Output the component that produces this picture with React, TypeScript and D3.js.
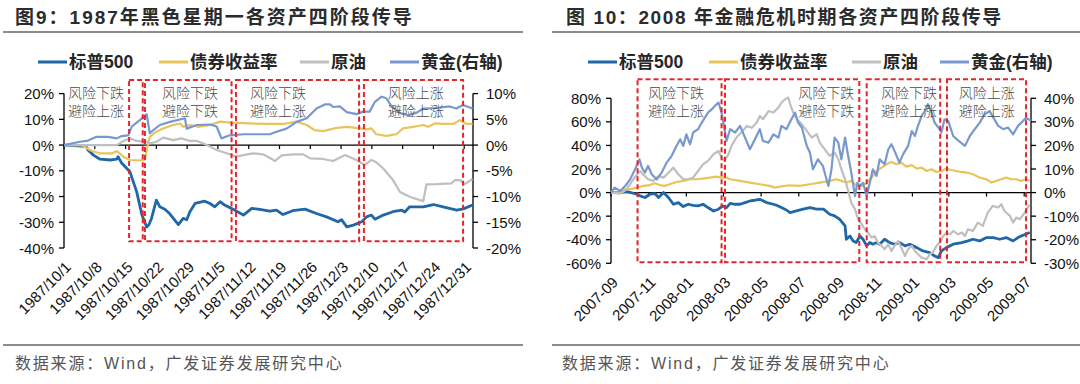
import { useEffect, useRef } from "react";
import * as d3 from "d3";

type Pt = [number, number];

const W = 1080,
  H = 384;
const DAY = 864e5;
const NUM = "'Liberation Sans', Arial, 'Noto Sans CJK SC', sans-serif";
const CJK = "'Noto Sans CJK SC', sans-serif";

const names = ["标普500", "债券收益率", "原油", "黄金(右轴)"];
const colors = ["#1F67A6", "#E8C45A", "#BFBFBF", "#7898D0"];

// ---------- 图9: 1987 (x = days after 1987/10/1, y = %)
const ticks87 = [
  "1987/10/1", "1987/10/8", "1987/10/15", "1987/10/22", "1987/10/29", "1987/11/5", "1987/11/12",
  "1987/11/19", "1987/11/26", "1987/12/3", "1987/12/10", "1987/12/17", "1987/12/24", "1987/12/31",
];
const spx87: Pt[] = [
  [0, 0], [5, -0.5], [5.5, -2], [6.7, -3.9], [8.2, -5.5], [10.5, -5.8], [12, -5.5], [12.3, -4.5],
  [13.1, -7], [15, -10.4], [16.5, -18], [17.7, -27], [18.8, -31.8], [19.3, -31], [19.9, -28.5],
  [21, -21.4], [21.8, -24], [23, -25], [24, -26.6], [26, -30.9], [27.1, -28.5], [27.9, -29],
  [28.6, -26], [29.8, -22.7], [32, -21.8], [33.2, -22.7], [34.3, -24], [35.5, -22], [36.6, -23.4],
  [38.1, -24.6], [40.8, -27.2], [42.7, -24.6], [44.5, -25], [46.8, -25.7], [48.3, -25.3],
  [49.8, -27], [52, -25.5], [54.8, -24.9], [57.4, -26.6], [59.7, -27.9], [62.3, -29.8], [63.1, -29],
  [64.3, -31.8], [65.8, -31.1], [67.7, -29.8], [68.8, -27.9], [69.9, -27.2], [70.7, -28.8],
  [72.6, -27.2], [74.8, -25.9], [76.8, -25.3], [77.5, -26], [78.6, -24], [81.7, -24], [84, -23.1],
  [86.2, -24], [89.3, -25.3], [90.8, -24.8], [92.9, -23.3],
];
const bond87: Pt[] = [
  [0, 0], [4, 0], [6, -2], [8, -3.2], [11, -3.2], [12, -2.3], [13.5, -4.5], [15, -5.8], [17.3, -6],
  [18.4, -5.6], [18.8, -1.9], [19.5, 3.2], [20.7, 4.9], [22.6, 6.5], [24.8, 7.8], [26.4, 8.4],
  [27.1, 7.1], [28.6, 7.8], [30.5, 7.1], [33.2, 7.8], [35.5, 9.1], [37.7, 8.7], [42.3, 8.4],
  [46, 8.2], [49.8, 8.2], [52.9, 9.1], [55.2, 7.8], [57, 5.8], [58.9, 5.4], [62, 6.7], [64.3, 7.1],
  [67.3, 6.5], [68.8, 6.1], [69.9, 6.5], [71, 4.2], [73.3, 3.6], [75.6, 4.2], [77.1, 6.5],
  [79.4, 7.1], [81.7, 7.8], [82.8, 7.1], [84.3, 8.4], [86.2, 8.2], [88.5, 8.2], [90, 9.7],
  [91.5, 8.2], [92.9, 8.2],
];
const oil87: Pt[] = [
  [0, 0], [12, 0], [13.4, 1.5], [15, 2.6], [16.5, 1.6], [18.8, 1.3], [19.5, 0.6], [21, 1.3],
  [22.6, 2.9], [24.8, 1.9], [26.7, 2.6], [28.6, 1.6], [30.2, 1.6], [31.7, 0.6], [33.2, -0.6],
  [34.7, -1.9], [37, -3.2], [39.2, -4.5], [40.8, -3.9], [43, -3.2], [45.3, -3.6], [48, -6.2],
  [49.5, -4], [52.1, -3.6], [54.4, -3.6], [56, -5.2], [58.9, -5.4], [61.2, -6.2], [63.9, -3.9],
  [66.5, -5.8], [68.4, -7.8], [69.9, -5.8], [71, -6.7], [72.6, -9.1], [74.8, -13.6], [76.4, -18.2],
  [78.6, -20.1], [80.9, -21.4], [81.7, -21.8], [82.4, -15.3], [84.7, -15.2], [88.1, -14.9],
  [88.9, -13.6], [90, -13.6], [91.1, -15.2], [92.9, -13.2],
];
const gold87: Pt[] = [
  [0, 0], [3.6, 0.65], [5.2, 0.8], [7.4, 1.6], [10, 1.6], [12, 1.3], [13.1, 1.75], [14.6, 1.9],
  [15.4, 3.6], [17.3, 4.9], [18.8, 6.0], [19.5, 2.3], [20.3, 2.9], [21.8, 3.9], [24.1, 4.5],
  [27.5, 5.2], [27.9, 3.2], [30.2, 3.9], [33.2, 4.0], [34.7, 3.6], [35.8, 1.3], [37.7, 1.9],
  [40.8, 2.1], [43.8, 2.1], [46.8, 2.1], [48.3, 2.6], [50.6, 3.2], [52.9, 4.5], [55.2, 5.2],
  [57.4, 7.1], [59.3, 7.9], [60.5, 7.9], [61.2, 7.4], [62.7, 7.5], [64.3, 6.4], [66.5, 6.0],
  [68, 6.5], [69.5, 6.5], [70.7, 8.4], [72.2, 9.4], [73.3, 9.1], [74.5, 7.5], [76.4, 6.2],
  [78.3, 5.8], [80.2, 6.3], [81.7, 7.1], [84.7, 7.2], [87.7, 7.5], [89.2, 7.1], [90.7, 7.8],
  [92.9, 7.1],
];
const phases87: Pt[] = [[14.8, 17.9], [18.4, 38.1], [39.1, 67.1], [68.2, 90.75]];
const noteDays87 = [0.9, 22.3, 42.3, 73.6];

// ---------- 图10: 2008 (x = days after 2007-09-01, y = %)
const ticks08 = [
  "2007-09", "2007-11", "2008-01", "2008-03", "2008-05", "2008-07",
  "2008-09", "2008-11", "2009-01", "2009-03", "2009-05", "2009-07",
];
const spx08: Pt[] = [
  [0, 0], [15, 0], [25, 1], [42, -1.4], [47, -2.8], [55, -4.2], [63, -1.4], [71, -0.8], [77, -4.2],
  [85, 0], [93, -4.2], [101, -9.9], [109, -8.5], [117, -11.9], [125, -9.9], [133, -10.8],
  [141, -11.3], [149, -9.9], [157, -12.7], [166, -15.6], [174, -14.1], [181, -11.3], [187, -12.7],
  [193, -9.1], [201, -9.9], [209, -9.9], [217, -8.5], [225, -7.1], [233, -6.5], [241, -5.7],
  [252, -8.5], [263, -9.9], [269, -11], [276, -12.7], [283, -14.5], [290, -17], [300, -15.6],
  [311, -14.1], [322, -12.7], [333, -14.1], [344, -14.1], [354, -18.4], [362, -19.8], [370, -22.6],
  [379, -28.3], [381, -39.6], [387, -36.8], [392, -41], [397, -42.4], [403, -36.8], [408, -39.6],
  [414, -45.2], [419, -42.4], [424, -43.8], [430, -42.4], [435, -43.8], [443, -39.6], [451, -42.4],
  [459, -43.8], [467, -42.4], [476, -45.2], [484, -43.8], [495, -46.7], [505, -49.5], [516, -50.9],
  [524, -53.8], [530, -55.2], [535, -49.5], [543, -46.7], [554, -43.8], [568, -42.4], [578, -41],
  [586, -39.6], [597, -41], [608, -38.2], [619, -38.2], [629, -39.6], [640, -38.2], [651, -41],
  [659, -38.2], [667, -36.2], [678, -33.9],
];
const bond08: Pt[] = [
  [0, 0], [15, 0], [23, 2.8], [31, 2.8], [42, 4.2], [52, 5.7], [63, 6.4], [71, 7.9], [79, 6.4],
  [87, 5.7], [95, 7.1], [106, 9], [117, 9.9], [128, 11.3], [139, 11.3], [149, 11.9], [160, 12.7],
  [171, 13.6], [179, 12.7], [187, 12.7], [193, 11.3], [209, 9.9], [225, 8.5], [241, 7.1],
  [257, 5.7], [265, 4.2], [273, 5], [290, 6.2], [306, 5.7], [322, 7.1], [338, 8.5], [354, 9.9],
  [365, 11.3], [373, 9.9], [381, 8.5], [389, 9.9], [398, 5.7], [406, 5.7], [414, 8.5], [422, 12.7],
  [430, 18.3], [438, 21.2], [446, 24], [454, 26], [462, 24], [470, 25.4], [478, 22], [487, 23.3],
  [495, 20.4], [503, 21.2], [511, 18.3], [519, 19.8], [527, 17.5], [535, 18.3], [543, 20.4],
  [551, 19.2], [559, 18.3], [567, 17.5], [576, 17], [586, 15.6], [597, 12.7], [608, 11.3],
  [616, 8.5], [624, 9.9], [632, 11.3], [640, 12.7], [648, 11.3], [656, 11.3], [664, 9.9],
  [672, 11.3], [678, 9.9],
];
const oil08: Pt[] = [
  [0, 0], [15, -1], [25, 2.8], [36, 11.3], [47, 18.3], [52, 15.5], [60, 11.3], [68, 9.9], [77, 14.1],
  [85, 12.7], [93, 16.9], [101, 21.2], [109, 15.5], [117, 11.3], [125, 11.3], [133, 12.7],
  [141, 18.3], [149, 24], [157, 26.9], [166, 32.5], [174, 35.3], [179, 29.7], [184, 26.8],
  [190, 32.5], [195, 39.5], [203, 46.7], [211, 50.9], [220, 56.5], [228, 55], [236, 59.4],
  [241, 65], [246, 62.2], [255, 69.2], [263, 67.9], [271, 72.1], [276, 76.4], [282, 79.2],
  [287, 80.6], [291, 73.5], [295, 67.9], [301, 62.2], [309, 57.9], [317, 52.3], [325, 46.7],
  [333, 49.5], [338, 42.4], [346, 36.7], [354, 31.1], [362, 33.9], [368, 28.3], [373, 19.8],
  [379, 11.3], [384, 1.4], [389, -8.5], [395, -14.1], [400, -22.6], [406, -26.9], [411, -31.1],
  [416, -33.9], [422, -38.2], [427, -37], [432, -42.4], [438, -45], [443, -48.1], [449, -43.8],
  [454, -49.5], [459, -45.2], [465, -41], [470, -46.7], [476, -53.8], [481, -48.1], [487, -45.2],
  [492, -49.5], [497, -52.3], [503, -55.2], [511, -56.6], [516, -52.3], [521, -50.9], [527, -45.2],
  [532, -42.4], [538, -36.8], [543, -34], [549, -35.4], [554, -32.5], [562, -35.4], [568, -33.9],
  [573, -36.8], [578, -31.1], [586, -32.5], [594, -25.5], [602, -28.3], [610, -17], [618, -11.3],
  [627, -12.7], [632, -9.9], [637, -15.6], [646, -19.8], [651, -25.5], [656, -21.2], [662, -22.6],
  [670, -17], [678, -9.9],
];
const gold08: Pt[] = [
  [0, 0], [6, 2.1], [15, 0.7], [23, 2.8], [31, 5.6], [39, 9.9], [46, 14.1], [50, 10.6], [55, 8.5],
  [60, 11.3], [66, 7.8], [74, 5.6], [82, 8.5], [90, 12.7], [98, 15.5], [106, 19.8], [112, 22.6],
  [117, 19.8], [122, 24.7], [128, 20.5], [133, 25.5], [141, 26.9], [147, 29.7], [152, 31.8],
  [157, 33.9], [163, 35.3], [168, 36.7], [174, 38.2], [179, 33.9], [182, 29.7], [187, 21.9],
  [193, 26.9], [201, 25.5], [209, 28.3], [217, 23.3], [225, 18.4], [233, 22.6], [241, 26.9],
  [246, 21.9], [255, 21.2], [263, 24.7], [271, 23.3], [276, 28.3], [284, 26.9], [292, 31.1],
  [298, 33.9], [303, 29.7], [309, 27.6], [317, 19.8], [322, 17], [327, 9.9], [335, 14.1],
  [343, 11.3], [352, 2.8], [357, 9.9], [362, 23.3], [368, 21.2], [373, 14.1], [379, 23.3],
  [384, 15.5], [389, 8.5], [395, -1.4], [399, 4.2], [403, 2.8], [408, 4.2], [414, -1.4], [419, 4.2],
  [424, 9.9], [430, 7.1], [435, 14.1], [443, 12], [449, 18.4], [454, 20.5], [459, 17.7], [467, 12.7],
  [473, 16.3], [481, 19.8], [487, 26.1], [492, 24], [497, 28.3], [503, 32.5], [508, 34.6],
  [513, 37.5], [519, 33.9], [524, 29.7], [530, 27.6], [535, 25.5], [540, 31.1], [546, 30.4],
  [554, 24], [560, 22.6], [573, 19.8], [581, 24], [589, 26.9], [597, 29.7], [605, 33.2], [613, 34.6],
  [619, 31.8], [627, 28.3], [635, 26.9], [643, 27.6], [651, 24.7], [659, 28.3], [667, 30.4],
  [672, 31.8], [680, 30.4],
];
const phases08: Pt[] = [[43, 179], [184.5, 402], [414, 533], [544, 672]];
const noteDays08 = [60, 303, 437, 563];

const notes = [
  ["风险下跌", "避险上涨"],
  ["风险下跌", "避险下跌"],
  ["风险下跌", "避险上涨"],
  ["风险上涨", "避险上涨"],
];

const parse87 = (s: string) => {
  const [y, m, d] = s.split("/").map(Number);
  return Date.UTC(y, m - 1, d);
};
const parse08 = (s: string) => {
  const [y, m] = s.split("-").map(Number);
  return Date.UTC(y, m - 1, 1);
};

const panels = [
  {
    title: "图9：1987年黑色星期一各资产四阶段传导",
    titleX: 15,
    titleSpacing: 2,
    ruleX: [3, 523],
    sourceX: 15,
    legendX: [38, 159, 300, 390],
    start: Date.UTC(1987, 9, 1),
    span: 93,
    x0: 64,
    x1: 473,
    yTop: 93.6,
    yBottom: 248,
    left: [-40, 20, 10],
    right: [-20, 10, 5],
    ticks: ticks87.map(parse87),
    tickText: ticks87,
    series: [spx87, bond87, oil87, gold87],
    phases: phases87,
    box: [25.3, -37.4],
    noteDays: noteDays87,
  },
  {
    title: "图 10：2008 年金融危机时期各资产四阶段传导",
    titleX: 566,
    titleSpacing: 1.6,
    ruleX: [552, 1080],
    sourceX: 562,
    legendX: [588, 709, 852, 940],
    start: Date.UTC(2007, 8, 1),
    span: 680,
    x0: 611,
    x1: 1031,
    yTop: 98.3,
    yBottom: 263.3,
    left: [-60, 80, 20],
    right: [-30, 40, 10],
    ticks: ticks08.map(parse08),
    tickText: ticks08,
    series: [spx08, bond08, oil08, gold08],
    phases: phases08,
    box: [96.1, -59.1],
    noteDays: noteDays08,
  },
];

type Panel = (typeof panels)[number];

function drawPanel(g: d3.Selection<SVGGElement, unknown, null, undefined>, p: Panel) {
  const x = d3.scaleUtc().domain([p.start, p.start + p.span * DAY]).range([p.x0, p.x1]);
  const xd = (d: number) => x(new Date(p.start + d * DAY));
  const yL = d3.scaleLinear().domain([p.left[0], p.left[1]]).range([p.yBottom, p.yTop]);
  const yR = d3.scaleLinear().domain([p.right[0], p.right[1]]).range([p.yBottom, p.yTop]);

  // title + rules + source
  g.append("text")
    .attr("x", p.titleX)
    .attr("y", 24)
    .attr("font-family", NUM)
    .attr("font-weight", "bold")
    .attr("font-size", 19)
    .attr("letter-spacing", p.titleSpacing)
    .attr("fill", "#2b2b2b")
    .text(p.title);
  g.append("line")
    .attr("x1", p.ruleX[0]).attr("x2", p.ruleX[1])
    .attr("y1", 32).attr("y2", 32)
    .attr("stroke", "#8c8c8c").attr("stroke-width", 2);
  g.append("line")
    .attr("x1", p.ruleX[0]).attr("x2", p.ruleX[1])
    .attr("y1", 345).attr("y2", 345)
    .attr("stroke", "#8c8c8c").attr("stroke-width", 2);
  g.append("text")
    .attr("x", p.sourceX)
    .attr("y", 363)
    .attr("dominant-baseline", "central")
    .attr("font-family", NUM)
    .attr("font-size", 16)
    .attr("letter-spacing", 1.8)
    .attr("fill", "#555")
    .text("数据来源：Wind，广发证券发展研究中心");

  // legend
  names.forEach((n, i) => {
    const lx = p.legendX[i];
    g.append("line")
      .attr("x1", lx).attr("x2", lx + 29)
      .attr("y1", 62).attr("y2", 62)
      .attr("stroke", colors[i]).attr("stroke-width", 3);
    g.append("text")
      .attr("x", lx + 31)
      .attr("y", 62)
      .attr("dominant-baseline", "central")
      .attr("font-family", NUM)
      .attr("font-weight", "bold")
      .attr("font-size", 17.5)
      .attr("fill", "#262626")
      .text(n);
  });

  // left axis
  g.append("line")
    .attr("x1", p.x0).attr("x2", p.x0)
    .attr("y1", p.yTop).attr("y2", p.yBottom)
    .attr("stroke", "#000").attr("stroke-width", 1.3);
  d3.range(p.left[0], p.left[1] + 0.01, p.left[2]).forEach((v) => {
    g.append("line")
      .attr("x1", p.x0 - 5).attr("x2", p.x0)
      .attr("y1", yL(v)).attr("y2", yL(v))
      .attr("stroke", "#000").attr("stroke-width", 1.3);
    g.append("text")
      .attr("x", p.x0 - 10)
      .attr("y", yL(v))
      .attr("text-anchor", "end")
      .attr("dominant-baseline", "central")
      .attr("font-family", NUM)
      .attr("font-size", 15)
      .attr("fill", "#111")
      .text(`${v}%`);
  });
  // right axis
  g.append("line")
    .attr("x1", p.x1).attr("x2", p.x1)
    .attr("y1", p.yTop).attr("y2", p.yBottom)
    .attr("stroke", "#000").attr("stroke-width", 1.3);
  d3.range(p.right[0], p.right[1] + 0.01, p.right[2]).forEach((v) => {
    g.append("line")
      .attr("x1", p.x1).attr("x2", p.x1 + 5)
      .attr("y1", yR(v)).attr("y2", yR(v))
      .attr("stroke", "#000").attr("stroke-width", 1.3);
    g.append("text")
      .attr("x", p.x1 + 13)
      .attr("y", yR(v))
      .attr("dominant-baseline", "central")
      .attr("font-family", NUM)
      .attr("font-size", 15)
      .attr("fill", "#111")
      .text(`${v}%`);
  });

  // zero line with date ticks
  const y0 = yL(0);
  g.append("line")
    .attr("x1", p.x0).attr("x2", p.x1)
    .attr("y1", y0).attr("y2", y0)
    .attr("stroke", "#000").attr("stroke-width", 1.2);
  p.ticks.forEach((t, i) => {
    const tx = x(new Date(t));
    g.append("line")
      .attr("x1", tx).attr("x2", tx)
      .attr("y1", y0).attr("y2", y0 + 4)
      .attr("stroke", "#000").attr("stroke-width", 1.2);
    g.append("text")
      .attr("transform", `translate(${tx + 8},${p.yBottom + 20}) rotate(-45)`)
      .attr("text-anchor", "end")
      .attr("font-family", NUM)
      .attr("font-size", 15)
      .attr("fill", "#111")
      .text(p.tickText[i]);
  });

  // series
  p.series.forEach((data, i) => {
    const yy = i === 3 ? yR : yL;
    const line = d3
      .line<Pt>()
      .x((d) => xd(d[0]))
      .y((d) => yy(d[1]));
    g.append("path")
      .datum(data)
      .attr("d", line)
      .attr("fill", "none")
      .attr("stroke", colors[i])
      .attr("stroke-width", i === 0 ? 2.8 : 2.2)
      .attr("stroke-linejoin", "round");
  });

  // phase boxes
  p.phases.forEach(([a, b]) => {
    g.append("rect")
      .attr("x", xd(a))
      .attr("y", yL(p.box[0]))
      .attr("width", xd(b) - xd(a))
      .attr("height", yL(p.box[1]) - yL(p.box[0]))
      .attr("fill", "none")
      .attr("stroke", "#E3262B")
      .attr("stroke-width", 2)
      .attr("stroke-dasharray", "5,3");
  });

  // notes
  const ty = yL(p.box[0]);
  p.noteDays.forEach((d, i) => {
    notes[i].forEach((s, k) => {
      g.append("text")
        .attr("x", xd(d))
        .attr("y", ty + 12.5 + k * 18)
        .attr("dominant-baseline", "central")
        .attr("font-family", CJK)
        .attr("font-weight", 300)
        .attr("font-size", 14)
        .attr("fill", "#4a4a4a")
        .text(s);
    });
  });
}

export default function App() {
  const ref = useRef<SVGSVGElement>(null);

  useEffect(() => {
    const svg = d3.select(ref.current);
    svg.selectAll("*").remove();
    svg.append("rect").attr("width", W).attr("height", H).attr("fill", "#fff");
    panels.forEach((p) => drawPanel(svg.append("g"), p));
  }, []);

  return (
    <div style={{ position: "fixed", left: 0, top: 0 }}>
      <svg ref={ref} width={W} height={H} style={{ display: "block" }}></svg>
    </div>
  );
}
